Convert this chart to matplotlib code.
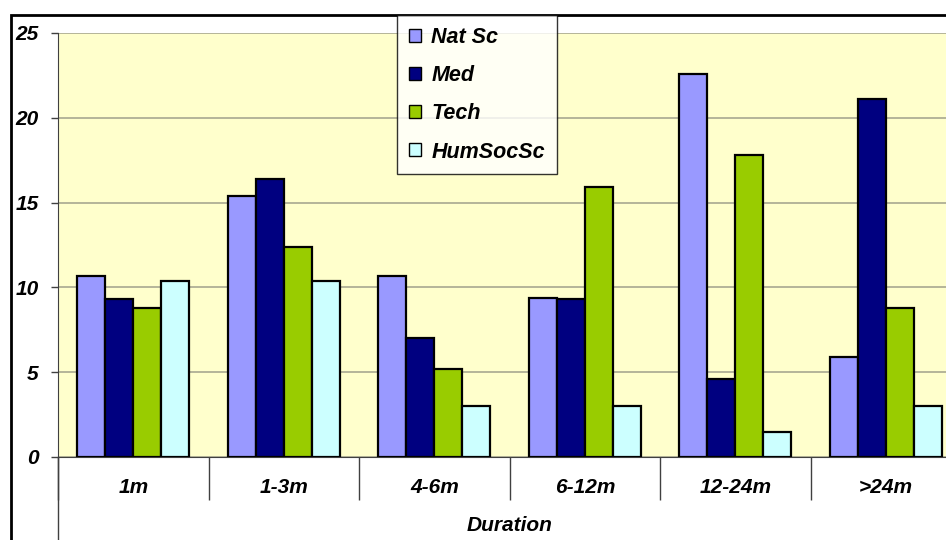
import matplotlib
matplotlib.use("Agg")
import matplotlib.pyplot as plt
import numpy as np
from matplotlib.patches import Rectangle
from matplotlib.lines import Line2D

categorias = ["1m", "1-3m", "4-6m", "6-12m", "12-24m", ">24m"]
series = ["Nat Sc", "Med", "Tech", "HumSocSc"]
nat_sc = [10.7, 15.4, 10.7, 9.4, 22.6, 5.9]
med = [9.3, 16.4, 7.0, 9.3, 4.6, 21.1]
tech = [8.8, 12.4, 5.2, 15.9, 17.8, 8.8]
hum_soc = [10.4, 10.4, 3.0, 3.0, 1.5, 3.0]
cores = ["#9999FF", "#000080", "#99CC00", "#CCFFFF"]

W, H = 946, 540
plt.rcParams["font.family"] = ["Liberation Sans", "DejaVu Sans"]
fonte = dict(fontsize=15, fontweight="bold", fontstyle="italic")

fig = plt.figure(figsize=(W / 100, H / 100), dpi=100)

# moldura externa (cortada a direita e embaixo)
fig.add_artist(Rectangle((11 / W, -0.05), 1.0, 1 - 15 / H + 0.05,
                         transform=fig.transFigure, fill=False,
                         edgecolor="black", linewidth=2, zorder=0))

ax = fig.add_axes([58 / W, 1 - 457 / H, (961 - 58) / W, (457 - 33) / H])
ax.set_facecolor("#FFFFCC")

x = np.arange(len(categorias))
w = 0.186
for i, (vals, nome, cor) in enumerate(zip([nat_sc, med, tech, hum_soc], series, cores)):
    ax.bar(x + (i - 1.5) * w, vals, w, color=cor, edgecolor="black",
           linewidth=1.6, label=nome, zorder=3)

ax.set_xlim(-0.5, len(categorias) - 0.5)
ax.set_ylim(0, 25)
ax.set_yticks([0, 5, 10, 15, 20, 25])
ax.yaxis.grid(True, color="#A8A890", linewidth=1.2, zorder=0)
ax.tick_params(axis="y", length=5, width=1, color="#404040", pad=9)
for t in ax.get_yticklabels():
    t.set(**fonte)

# eixo de categorias: marcas longas nos limites dos grupos
ax.set_xticks(np.arange(len(categorias) + 1) - 0.5)
ax.set_xticklabels([])
ax.tick_params(axis="x", which="major", length=31, width=1, color="#404040")
ax.set_xticks(x, minor=True)
ax.set_xticklabels(categorias, minor=True, **fonte)
ax.tick_params(axis="x", which="minor", length=0, pad=15)
ax.set_xlabel("Duration", labelpad=8, **fonte)

for s in ["top", "right"]:
    ax.spines[s].set_visible(False)
ax.spines["left"].set_color("#404040")
ax.spines["bottom"].set_color("#404040")

fig.add_artist(Line2D([58 / W, 58 / W], [0, 1 - 457 / H],
                      transform=fig.transFigure, color="#404040", linewidth=1))

leg = fig.legend(loc="upper left", bbox_to_anchor=(397 / W, 1 - 15 / H),
                 bbox_transform=fig.transFigure, frameon=True, fancybox=False,
                 prop=dict(family=["Liberation Sans"], size=15.5, weight="bold", style="italic"),
                 handlelength=0.55, handleheight=0.55, handletextpad=0.5,
                 labelspacing=0.8, borderpad=0.55, borderaxespad=0)
leg.get_frame().set_edgecolor("black")
leg.get_frame().set_linewidth(1)
for h in leg.legend_handles:
    h.set_linewidth(1)

fig.savefig("out.png", dpi=100)
